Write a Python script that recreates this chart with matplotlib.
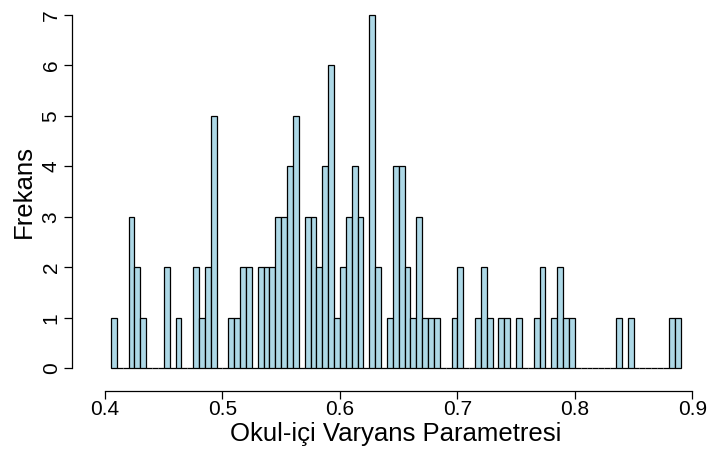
import numpy as np
import matplotlib.pyplot as plt

plt.rcParams['font.family'] = ['Liberation Sans', 'DejaVu Sans']

# histogram breaks: 0.005 wide bins from 0.405 to 0.89
bin_start = 0.405
bin_width = 0.005
counts = [1, 0, 0, 3, 2, 1, 0, 0, 0, 2,
          0, 1, 0, 0, 2, 1, 2, 5, 0, 0,
          1, 1, 2, 2, 0, 2, 2, 2, 3, 3,
          4, 5, 0, 3, 3, 2, 4, 6, 1, 2,
          3, 4, 3, 0, 7, 2, 0, 1, 4, 4,
          2, 1, 3, 1, 1, 1, 0, 0, 1, 2,
          0, 0, 1, 2, 1, 0, 1, 1, 0, 1,
          0, 0, 1, 2, 0, 1, 2, 1, 1, 0,
          0, 0, 0, 0, 0, 0, 1, 0, 1, 0,
          0, 0, 0, 0, 0, 1, 1]
x_ticks = [0.4, 0.5, 0.6, 0.7, 0.8, 0.9]
y_ticks = [0, 1, 2, 3, 4, 5, 6, 7]

lefts = bin_start + bin_width * np.arange(len(counts))

fig = plt.figure(figsize=(7.09, 4.5), dpi=100)
ax = fig.add_axes([0.1243, 0.1502, 0.8677, 0.8478])

ax.bar(lefts, counts, width=bin_width, align='edge',
       color='lightblue', edgecolor='black', linewidth=0.9)

x0, x1 = bin_start, lefts[-1] + bin_width
pad = 0.04 * (x1 - x0)
ax.set_xlim(x0 - pad, x1 + pad)
ax.set_ylim(-0.28, 7.28)

for side in ['top', 'right']:
    ax.spines[side].set_visible(False)
ax.spines['left'].set_position(('outward', 11.8))
ax.spines['bottom'].set_position(('outward', 6.0))
ax.spines['left'].set_bounds(0, 7)
ax.spines['bottom'].set_bounds(0.4, 0.9)
ax.spines['left'].set_linewidth(0.9)
ax.spines['bottom'].set_linewidth(0.9)

ax.set_xticks(x_ticks)
ax.set_xticklabels([f'{v:g}' for v in x_ticks])
ax.set_yticks(y_ticks)
ax.set_yticklabels([str(v) for v in y_ticks], rotation=90, va='center')
ax.tick_params(axis='both', length=6, width=0.9, labelsize=15)
ax.tick_params(axis='x', pad=1)
ax.tick_params(axis='y', pad=2)

ax.set_xlabel('Okul-içi Varyans Parametresi', fontsize=18.5, labelpad=2)
ax.set_ylabel('Frekans', fontsize=18.5, labelpad=4)

fig.savefig('out.png', dpi=100)
